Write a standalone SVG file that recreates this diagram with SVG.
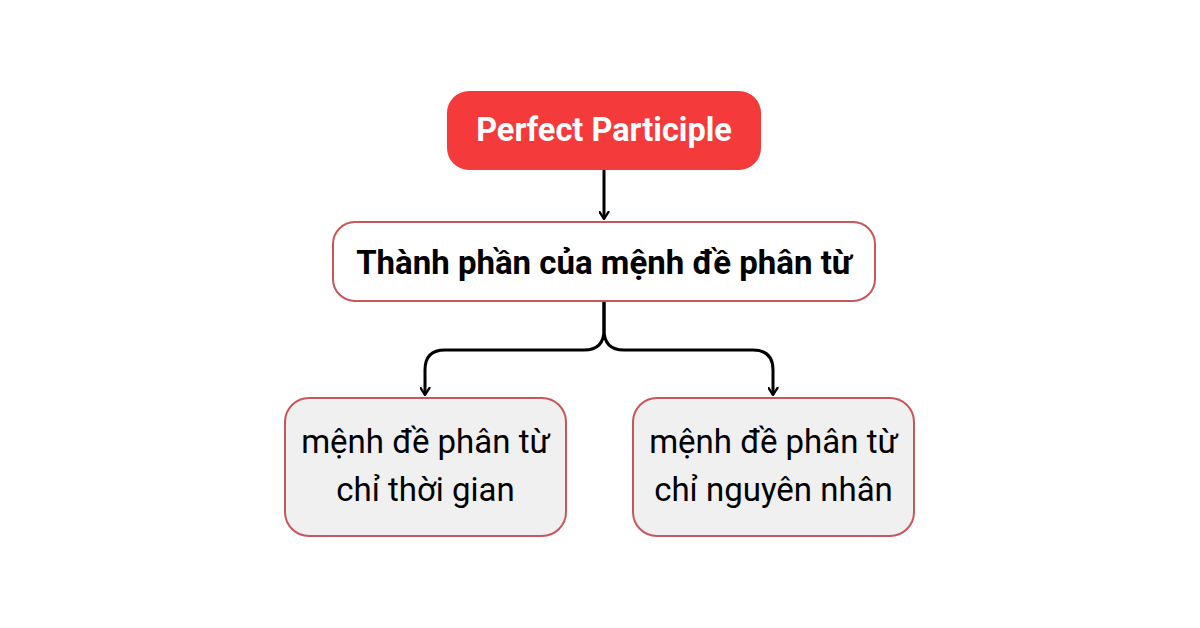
<svg xmlns="http://www.w3.org/2000/svg" width="1200" height="628" viewBox="0 0 1200 628">
<defs>
<marker id="ah" viewBox="0 0 10 12" refX="9" refY="6" markerWidth="9" markerHeight="11" orient="auto" markerUnits="userSpaceOnUse">
<path d="M1,1 L9,6 L1,11" fill="none" stroke="#000" stroke-width="2.6" stroke-linecap="round" stroke-linejoin="round"/>
</marker>
<style>
.lbl{font-family:Roboto,"Liberation Sans",sans-serif;text-anchor:middle}
.box{stroke:#c8565a;stroke-width:2}
.con{fill:none;stroke:#000;stroke-width:3}
</style>
</defs>
<rect width="1200" height="628" fill="#fff"/>
<g id="connectors">
<path class="con" d="M604,170 V219" marker-end="url(#ah)"/>
<path class="con" d="M604,301 V330 Q604,350 584,350 H445 Q425,350 425,370 V395" marker-end="url(#ah)"/>
<path class="con" d="M604,301 V330 Q604,350 624,350 H753 Q773,350 773,370 V395" marker-end="url(#ah)"/>
</g>
<g id="n1">
<rect x="447" y="91" width="314" height="79" rx="22" fill="#f43a3b"/>
<text class="lbl" x="604" y="141" font-size="32.500" font-weight="bold" fill="#fff">Perfect Participle</text>
</g>
<g id="n2">
<rect class="box" x="333" y="222" width="542" height="79" rx="22" fill="#fff"/>
<text class="lbl" x="604" y="274" font-size="33" font-weight="bold" fill="#000">Thành phần của mệnh đề phân từ</text>
</g>
<g id="n3">
<rect class="box" x="285" y="398" width="281" height="138" rx="24" fill="#f0f0f0"/>
<text class="lbl" x="425.500" y="453" font-size="33" fill="#000">mệnh đề phân từ</text>
<text class="lbl" x="425.500" y="501" font-size="33" fill="#000">chỉ thời gian</text>
</g>
<g id="n4">
<rect class="box" x="633" y="398" width="281" height="138" rx="24" fill="#f0f0f0"/>
<text class="lbl" x="773.500" y="453" font-size="33" fill="#000">mệnh đề phân từ</text>
<text class="lbl" x="773.500" y="501" font-size="33" fill="#000">chỉ nguyên nhân</text>
</g>
</svg>
